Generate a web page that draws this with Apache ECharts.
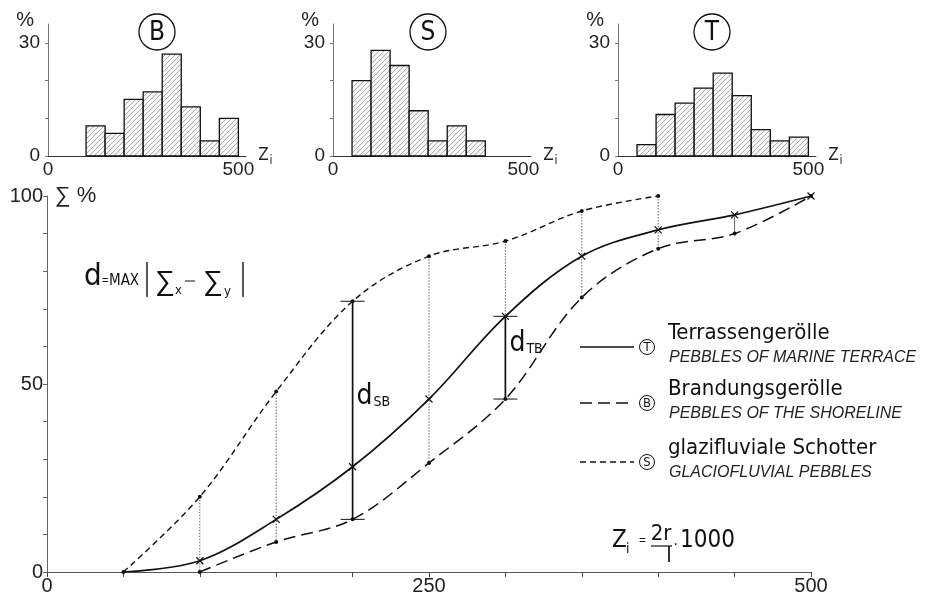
<!DOCTYPE html>
<html>
<head>
<meta charset="utf-8">
<script src="https://cdn.jsdelivr.net/npm/echarts@6/dist/echarts.min.js"></script>
<style>
  html, body { margin: 0; padding: 0; background: #fff; }
  #chart { width: 935px; height: 601px; }
</style>
</head>
<body>
<div id="chart"></div>
<script>
// cumulative curves (main plot), Z_i class limits
const zPoints = [50, 100, 150, 200, 250, 300, 350, 400, 450, 500];
const sumT = [0, 3, 14, 28, 46, 68, 84, 91, 95, 100];
const sumB = [null, 0, 8, 14, 29, 46, 73, 86, 90, 100];
const sumS = [0, 20, 48, 72, 84, 88, 96, 100, null, null];

// histograms, class width 50
const binWidth = 50;
const binsB = [100, 150, 200, 250, 300, 350, 400, 450];
const histB = [8, 6, 15, 17, 27, 13, 4, 10];
const binsS = [50, 100, 150, 200, 250, 300, 350];
const histS = [20, 28, 24, 12, 4, 8, 4];
const binsT = [50, 100, 150, 200, 250, 300, 350, 400, 450];
const histT = [3, 11, 14, 18, 22, 16, 7, 4, 5];

// vertical guides [from, to, z] and marked distances [from, to, z, name]
const guides = [['S', 'B', 100], ['S', 'B', 150], ['S', 'B', 250], ['S', 'B', 300],
                ['S', 'B', 350], ['S', 'B', 400], ['T', 'B', 450]];
const dLines = [['S', 'B', 200, 'SB'], ['T', 'B', 300, 'TB']];

// tick labels
const mainXLabels = [0, 250, 500];
const mainYLabels = [0, 50, 100];
const histXLabels = [0, 500];
const histYLabels = [0, 30];

const curves = { T: sumT, B: sumB, S: sumS };
const val = (k, z) => curves[k][zPoints.indexOf(z)];

const REG = '"Liberation Sans", Arial, sans-serif';
const NARROW = '"Liberation Sans Narrow", "DejaVu Sans Condensed", sans-serif';

function hatchCanvas() {
  const c = document.createElement('canvas');
  c.width = 5; c.height = 5;
  const g = c.getContext('2d');
  g.fillStyle = '#f6f6f6';
  g.fillRect(0, 0, 5, 5);
  g.strokeStyle = '#999';
  g.lineWidth = 0.8;
  g.beginPath();
  g.moveTo(0, 5); g.lineTo(5, 0);
  g.moveTo(-1, 1); g.lineTo(1, -1);
  g.moveTo(4, 6); g.lineTo(6, 4);
  g.stroke();
  return c;
}
const hatch = { image: hatchCanvas(), repeat: 'repeat' };

const chart = echarts.init(document.getElementById('chart'));

function histItem(params, api) {
  const z0 = api.value(0);
  const p0 = api.coord([z0, 0]);
  const p1 = api.coord([z0 + binWidth, api.value(1)]);
  return {
    type: 'rect',
    shape: { x: p0[0], y: p1[1], width: p1[0] - p0[0], height: p0[1] - p1[1] },
    style: { fill: hatch, stroke: '#111', lineWidth: 1.3 }
  };
}

function pairs(xs, ys) {
  const out = [];
  xs.forEach((x, i) => { if (ys[i] != null) out.push([x, ys[i]]); });
  return out;
}

// histogram grids: B, S, T
const histLeft = [48, 333, 618];
const histNames = ['B', 'S', 'T'];
const histData = [pairs(binsB, histB), pairs(binsS, histS), pairs(binsT, histT)];

const grids = [{ left: 47, width: 764, top: 196, height: 376 }];
const xAxes = [{
  type: 'value', gridIndex: 0, min: 0, max: 500, interval: 50,
  axisLine: { lineStyle: { color: '#555', width: 1 } },
  axisTick: { length: 5, lineStyle: { color: '#444' } },
  axisLabel: { customValues: mainXLabels, color: '#222', fontFamily: REG, fontSize: 20, margin: 4, showMinLabel: true },
  splitLine: { show: false }
}];
const yAxes = [{
  type: 'value', gridIndex: 0, min: 0, max: 100, interval: 10,
  name: '∑ %', nameLocation: 'end', nameGap: 0,
  nameTextStyle: { align: 'left', verticalAlign: 'middle', padding: [0, 0, 0, 8], color: '#222', fontFamily: REG, fontSize: 22 },
  axisLine: { lineStyle: { color: '#666', width: 1 } },
  axisTick: { length: 4, lineStyle: { color: '#666' } },
  axisLabel: { customValues: mainYLabels, color: '#222', fontFamily: REG, fontSize: 20, margin: 4, showMinLabel: true },
  splitLine: { show: false }
}];

// each histogram uses two grids on the same rectangle, so that the
// x labels and the y labels do not hide each other at the origin
const histSeries = [];
histLeft.forEach((left, i) => {
  const gA = grids.length, gB = gA + 1;
  const rect = { left: left, width: 198, top: 24, height: 132 };
  grids.push(Object.assign({}, rect), Object.assign({}, rect));
  const xIdx = xAxes.length, yIdx = yAxes.length;
  xAxes.push({
    type: 'value', gridIndex: gA, min: 0, max: 520, interval: 100,
    name: '{z|Z}{i|i}', nameLocation: 'end', nameGap: 9,
    nameTextStyle: {
      rich: {
        z: { fontFamily: NARROW, fontSize: 17, color: '#222' },
        i: { fontFamily: NARROW, fontSize: 12, color: '#222', padding: [10, 0, 0, 1] }
      }
    },
    axisLine: { onZero: false, lineStyle: { color: '#333', width: 1 } },
    axisTick: { show: false },
    axisLabel: {
      customValues: histXLabels, color: '#222', fontFamily: REG, fontSize: 19, margin: 4,
      showMinLabel: true, showMaxLabel: true
    },
    splitLine: { show: false }
  }, {
    type: 'value', gridIndex: gB, min: 0, max: 520, show: false
  });
  yAxes.push({
    type: 'value', gridIndex: gA, min: 0, max: 35, show: false
  }, {
    type: 'value', gridIndex: gB, min: 0, max: 35,
    name: '%', nameLocation: 'end', nameGap: -6,
    nameTextStyle: { align: 'right', padding: [0, 14, 0, 0], color: '#222', fontFamily: REG, fontSize: 20 },
    axisLine: { onZero: false, lineStyle: { color: '#777', width: 1 } },
    axisTick: { customValues: [0, 10, 20, 30], length: 3, lineStyle: { color: '#777' } },
    axisLabel: {
      customValues: histYLabels, color: '#222', fontFamily: REG, fontSize: 19, margin: 8,
      showMinLabel: true
    },
    splitLine: { show: false }
  });
  histSeries.push({
    type: 'custom', name: histNames[i], xAxisIndex: xIdx, yAxisIndex: yIdx,
    renderItem: histItem, data: histData[i], silent: true
  });
});

const tData = pairs(zPoints, sumT).map((p, i) => i === 0 ? { value: p, symbol: 'none' } : p);

const series = [
  {
    type: 'custom', name: 'guides', z: 1, silent: true,
    data: guides.map(g => [g[2], val(g[0], g[2]), val(g[1], g[2]), g[0] === 'T' ? 1 : 0]),
    renderItem: (params, api) => {
      const a = api.coord([api.value(0), api.value(1)]);
      const b = api.coord([api.value(0), api.value(2)]);
      return {
        type: 'line',
        shape: { x1: a[0], y1: a[1], x2: b[0], y2: b[1] },
        style: { stroke: '#555', lineWidth: 0.9, lineDash: api.value(3) ? null : [1.5, 1.5] }
      };
    }
  },
  {
    type: 'line', name: 'T', data: tData, smooth: 0.35,
    symbol: 'path://M0,0L10,10M10,0L0,10', symbolSize: 7,
    lineStyle: { color: '#111', width: 1.7 },
    itemStyle: { color: '#111', borderColor: '#111', borderWidth: 1.2 },
    z: 3
  },
  {
    type: 'line', name: 'B', data: pairs(zPoints, sumB), smooth: 0.35,
    symbol: 'circle', symbolSize: 4,
    lineStyle: { color: '#111', width: 1.5, type: [12, 6] },
    itemStyle: { color: '#111' },
    z: 3
  },
  {
    type: 'line', name: 'S', data: pairs(zPoints, sumS), smooth: 0.35,
    symbol: 'circle', symbolSize: 4,
    lineStyle: { color: '#111', width: 1.4, type: [6, 4] },
    itemStyle: { color: '#111' },
    z: 3
  },
  {
    type: 'custom', name: 'd', z: 4, silent: true,
    data: dLines.map(d => [d[2], val(d[0], d[2]), val(d[1], d[2]), d[3]]),
    renderItem: (params, api) => {
      const a = api.coord([api.value(0), api.value(1)]);
      const b = api.coord([api.value(0), api.value(2)]);
      const st = { stroke: '#111', lineWidth: 1.7 };
      const cap = 12;
      return {
        type: 'group',
        children: [
          { type: 'line', shape: { x1: a[0], y1: a[1], x2: b[0], y2: b[1] }, style: st },
          { type: 'line', shape: { x1: a[0] - cap, y1: a[1], x2: a[0] + cap, y2: a[1] }, style: { stroke: '#111', lineWidth: 1 } },
          { type: 'line', shape: { x1: b[0] - cap, y1: b[1], x2: b[0] + cap, y2: b[1] }, style: { stroke: '#111', lineWidth: 1 } },
          {
            type: 'text', x: a[0] + 4, y: (a[1] + b[1]) / 2 - 14,
            style: {
              text: '{d|d}{s|' + api.value(3) + '}',
              verticalAlign: 'middle',
              rich: {
                d: { fontFamily: NARROW, fontSize: 28, fill: '#111' },
                s: { fontFamily: NARROW, fontSize: 14, fill: '#111', padding: [12, 0, 0, 1] }
              }
            }
          }
        ]
      };
    }
  }
].concat(histSeries);

// legend rows and annotations
const legendRows = [
  { key: 'T', y: 347, dash: null, de: 'Terrassengerölle', en: 'PEBBLES OF MARINE TERRACE' },
  { key: 'B', y: 403, dash: [12, 6], de: 'Brandungsgerölle', en: 'PEBBLES OF THE SHORELINE' },
  { key: 'S', y: 462, dash: [6, 4], de: 'glazifluviale Schotter', en: 'GLACIOFLUVIAL PEBBLES' }
];
const graphics = [];
legendRows.forEach(r => {
  graphics.push(
    { type: 'line', shape: { x1: 580, y1: r.y, x2: 634, y2: r.y }, style: { stroke: '#111', lineWidth: 1.5, lineDash: r.dash } },
    { type: 'circle', shape: { cx: 647, cy: r.y, r: 7.5 }, style: { fill: '#fff', stroke: '#111', lineWidth: 1 } },
    { type: 'text', x: 647, y: r.y + 0.5, style: { text: r.key, font: '13px ' + NARROW, fill: '#111', align: 'center', verticalAlign: 'middle' } },
    { type: 'text', x: 668, y: r.y - 3, style: { text: r.de, font: '22px ' + NARROW, fill: '#111', verticalAlign: 'bottom' } },
    { type: 'text', x: 669, y: r.y + 19, style: { text: r.en, font: 'italic 16px ' + REG, fill: '#222', verticalAlign: 'bottom' } }
  );
});
[157, 428, 712].forEach((cx, i) => {
  graphics.push(
    { type: 'circle', shape: { cx: cx, cy: 32, r: 18 }, style: { fill: 'none', stroke: '#111', lineWidth: 1.3 } },
    { type: 'text', x: cx, y: 33, style: { text: histNames[i], font: '26px ' + NARROW, fill: '#111', align: 'center', verticalAlign: 'middle' } }
  );
});
// d = MAX |Σx − Σy|
graphics.push(
  { type: 'text', x: 84, y: 292, style: { text: 'd', font: '31px ' + NARROW, fill: '#111', verticalAlign: 'bottom' } },
  { type: 'text', x: 102, y: 281, style: { text: '=', font: '11px ' + REG, fill: '#111', verticalAlign: 'middle' } },
  { type: 'text', x: 109, y: 281, style: { text: 'MAX', font: '15px ' + NARROW, fill: '#111', verticalAlign: 'middle' } },
  { type: 'line', shape: { x1: 147, y1: 262, x2: 147, y2: 297 }, style: { stroke: '#111', lineWidth: 1.4 } },
  { type: 'text', x: 155, y: 282, style: { text: '∑', font: '28px ' + REG, fill: '#111', verticalAlign: 'middle' } },
  { type: 'text', x: 175, y: 291, style: { text: 'x', font: '13px ' + NARROW, fill: '#111', verticalAlign: 'middle' } },
  { type: 'line', shape: { x1: 185, y1: 281, x2: 195, y2: 281 }, style: { stroke: '#111', lineWidth: 1 } },
  { type: 'text', x: 203, y: 282, style: { text: '∑', font: '28px ' + REG, fill: '#111', verticalAlign: 'middle' } },
  { type: 'text', x: 224, y: 292, style: { text: 'y', font: '13px ' + NARROW, fill: '#111', verticalAlign: 'middle' } },
  { type: 'line', shape: { x1: 243, y1: 262, x2: 243, y2: 297 }, style: { stroke: '#111', lineWidth: 1.4 } }
);
// Z_i = 2r / l · 1000
graphics.push(
  { type: 'text', x: 612, y: 553, style: { text: 'Z', font: '24px ' + NARROW, fill: '#111', verticalAlign: 'bottom' } },
  { type: 'text', x: 626, y: 556, style: { text: 'i', font: '14px ' + NARROW, fill: '#111', verticalAlign: 'bottom' } },
  { type: 'text', x: 639, y: 541, style: { text: '=', font: '12px ' + REG, fill: '#111', verticalAlign: 'middle' } },
  { type: 'text', x: 661, y: 545, style: { text: '2r', font: '22px ' + NARROW, fill: '#111', align: 'center', verticalAlign: 'bottom' } },
  { type: 'line', shape: { x1: 651, y1: 546, x2: 672, y2: 546 }, style: { stroke: '#111', lineWidth: 1.2 } },
  { type: 'text', x: 669, y: 567, style: { text: 'l', font: '22px ' + NARROW, fill: '#111', align: 'center', verticalAlign: 'bottom' } },
  { type: 'text', x: 673, y: 545, style: { text: '·', font: '16px ' + REG, fill: '#111', verticalAlign: 'middle' } },
  { type: 'text', x: 680, y: 553, style: { text: '1000', font: '24px ' + NARROW, fill: '#111', verticalAlign: 'bottom' } }
);

chart.setOption({
  backgroundColor: '#fff',
  animation: false,
  grid: grids,
  xAxis: xAxes,
  yAxis: yAxes,
  series: series,
  graphic: graphics
});
</script>
</body>
</html>
